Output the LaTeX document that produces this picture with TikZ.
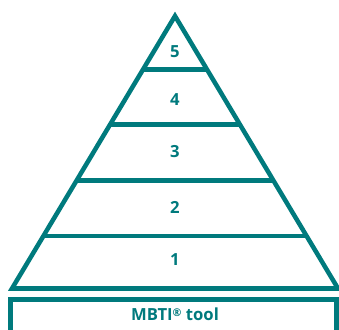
\documentclass[tikz,border=0pt]{standalone}
\usepackage{fontspec}
\setmainfont{Open Sans}
\usetikzlibrary{calc}
\definecolor{pyrteal}{RGB}{0,122,125}
\tikzset{
  pyrline/.style={draw=pyrteal,line width=3.4pt},
  lvl/.style={text=pyrteal,font=\bfseries\fontsize{12.5}{14}\selectfont,inner sep=0pt}
}
\begin{document}
\begin{tikzpicture}[x=0.75pt,y=-0.75pt]
\useasboundingbox (0,0) rectangle (339,329);
\coordinate (top) at (175,16);
\coordinate (bl) at (12,288.5);
\coordinate (br) at (338,288.5);
\draw[pyrline,line join=miter] (bl) -- (top) -- (br) -- cycle;
\foreach \f in {0.193,0.396,0.602,0.804}
  \draw[pyrline] ($(bl)!\f!(top)$) -- ($(br)!\f!(top)$);

\node[lvl] (l5) at (175,51.7) {5};
\node[lvl] (l4) at (175,99.7) {4};
\node[lvl] (l3) at (175,151.5) {3};
\node[lvl] (l2) at (175,207.5) {2};
\node[lvl] (l1) at (175,260) {1};

\draw[pyrline] (10.5,299.5) rectangle (336.5,332.5);
\node[lvl] (tool) at (175,314.7) {MBTI\raisebox{0.45ex}{\fontsize{8}{9}\selectfont ®} tool};
\end{tikzpicture}
\end{document}
